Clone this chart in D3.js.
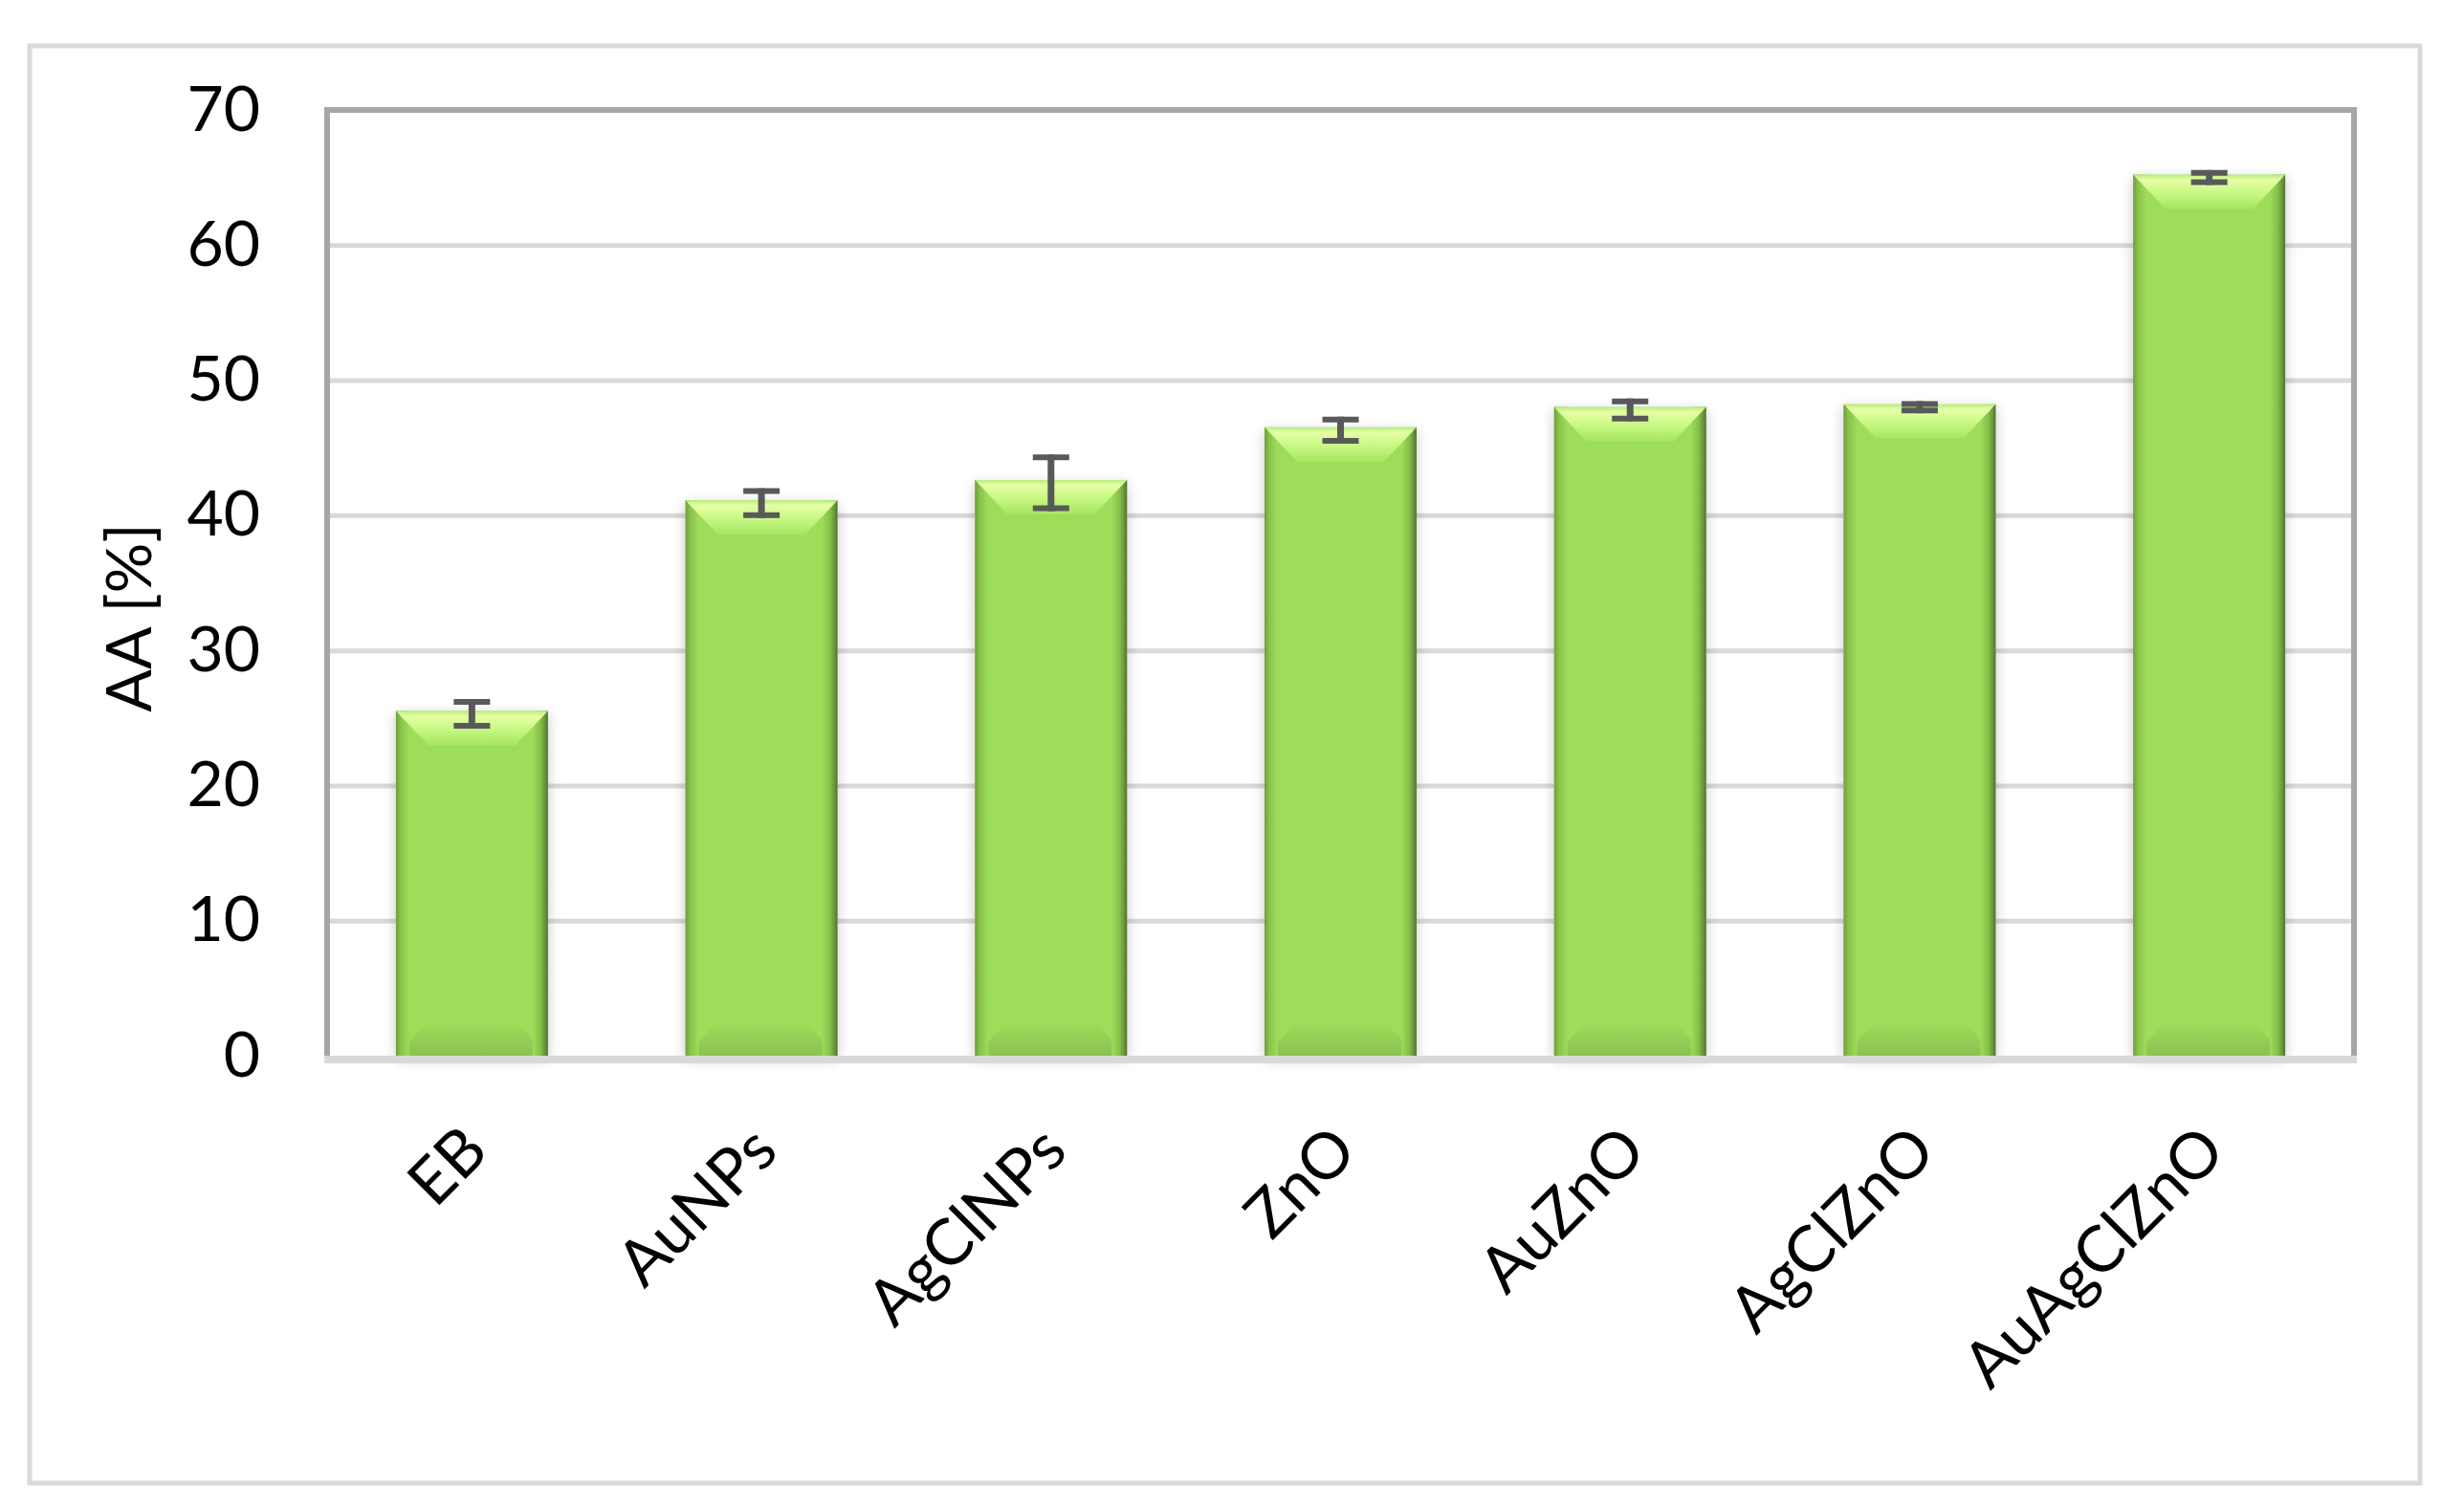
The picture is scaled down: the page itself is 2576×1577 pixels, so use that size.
<!DOCTYPE html>
<html>
<head>
<meta charset="utf-8">
<script src="https://cdn.jsdelivr.net/npm/d3@7/dist/d3.min.js"></script>
<style>
html,body{margin:0;padding:0;background:#fff;}
svg{display:block;}
text{font-family:Lato,"Open Sans",sans-serif;fill:#000;}
</style>
</head>
<body>
<svg id="chart" width="2576" height="1577"></svg>
<script>
const categories = ["EB","AuNPs","AgClNPs","ZnO","AuZnO","AgClZnO","AuAgClZnO"];
const values = [25.3, 40.9, 42.4, 46.3, 47.8, 48.0, 65.0];
const errors = [1.1, 1.1, 2.1, 1.0, 0.85, 0.45, 0.55];
const yTicks = [0,10,20,30,40,50,60,70];
const yTitle = "AA [%]";

const svg = d3.select("#chart");
const plot = {left:342, right:2461, top:115, bottom:1104};

// outer border
svg.append("rect").attr("x",31).attr("y",48).attr("width",2499).attr("height",1503)
  .attr("fill","#fff").attr("stroke","#d9d9d9").attr("stroke-width",5);

const x = d3.scaleBand().domain(categories).range([plot.left, plot.right])
  .paddingInner(0.475).paddingOuter(0.2375);
const y = d3.scaleLinear().domain([0,70]).range([plot.bottom, plot.top]);

const defs = svg.append("defs");
const f = defs.append("filter").attr("id","shadow").attr("x","-30%").attr("y","-10%").attr("width","160%").attr("height","120%");
f.append("feGaussianBlur").attr("in","SourceAlpha").attr("stdDeviation",7).attr("result","b");
f.append("feOffset").attr("in","b").attr("dx",0).attr("dy",4).attr("result","o");
f.append("feComponentTransfer").attr("in","o").attr("result","s")
  .append("feFuncA").attr("type","linear").attr("slope",0.22);
const fm = f.append("feMerge");
fm.append("feMergeNode").attr("in","s");
fm.append("feMergeNode").attr("in","SourceGraphic");

function lin(id, x1,y1,x2,y2, stops){
  const g = defs.append("linearGradient").attr("id",id)
    .attr("x1",x1).attr("y1",y1).attr("x2",x2).attr("y2",y2);
  stops.forEach(s=>g.append("stop").attr("offset",s[0]).attr("stop-color",s[1]));
}
lin("gLeft",0,0,1,0,[[0,"#6e9f3c"],[0.35,"#88c24a"],[1,"#9edd5a"]]);
lin("gRight",0,0,1,0,[[0,"#9edd5a"],[0.5,"#86c04a"],[0.8,"#6a963c"],[1,"#556f38"]]);
lin("gTop",0,0,0,1,[[0,"#b9ec7c"],[0.15,"#e6ffa6"],[0.55,"#c6f882"],[1,"#a6e462"]]);
lin("gBot",0,0,0,1,[[0,"#9edd5a"],[1,"#8cc152"]]);

// gridlines
const grid = svg.append("g")
  .attr("transform",`translate(${plot.left},0)`)
  .call(d3.axisLeft(y).tickValues(yTicks.filter(t=>t>0 && t<70)).tickSize(-(plot.right-plot.left)).tickFormat(""));
grid.select(".domain").remove();
grid.selectAll("line").attr("stroke","#d9d9d9").attr("stroke-width",5);

// plot frame (top, left, right)
svg.append("path")
  .attr("d",`M${plot.left},${plot.bottom} V${plot.top} H${plot.right} V${plot.bottom}`)
  .attr("fill","none").attr("stroke","#a6a6a6").attr("stroke-width",6);

// bars
const bw = x.bandwidth();
const bars = svg.append("g").selectAll("g.bar").data(categories).join("g").attr("class","bar")
  .attr("filter","url(#shadow)");
bars.each(function(c,i){
  const g = d3.select(this);
  const x0 = x(c), x1 = x0 + bw, yt = y(values[i]) - 3, yb = y(0);
  const b = 34, bh = 36;
  g.append("rect").attr("x",x0).attr("y",yt).attr("width",bw).attr("height",yb-yt).attr("fill","#9edd5a");
  g.append("path").attr("d",`M${x0},${yb} L${x1},${yb} L${x1-b},${yb-bh} L${x0+b},${yb-bh} Z`).attr("fill","url(#gBot)");
  g.append("rect").attr("x",x0).attr("y",yt).attr("width",14).attr("height",yb-yt).attr("fill","url(#gLeft)");
  g.append("rect").attr("x",x1-16).attr("y",yt).attr("width",16).attr("height",yb-yt).attr("fill","url(#gRight)");
  g.append("path").attr("d",`M${x0},${yt} L${x1},${yt} L${x1-b},${yt+bh} L${x0+b},${yt+bh} Z`).attr("fill","url(#gTop)");
});

// bottom axis line
svg.append("line").attr("x1",plot.left-3).attr("x2",plot.right+3)
  .attr("y1",plot.bottom+4).attr("y2",plot.bottom+4)
  .attr("stroke","#d9d9d9").attr("stroke-width",8);

// error bars
const eb = svg.append("g").attr("stroke","#595959").attr("fill","none");
categories.forEach((c,i)=>{
  const cx = x(c) + bw/2;
  const yh = y(values[i]+errors[i]), yl = y(values[i]-errors[i]);
  eb.append("line").attr("x1",cx).attr("x2",cx).attr("y1",yh).attr("y2",yl).attr("stroke-width",7);
  eb.append("line").attr("x1",cx-19).attr("x2",cx+19).attr("y1",yh+3).attr("y2",yh+3).attr("stroke-width",6);
  eb.append("line").attr("x1",cx-19).attr("x2",cx+19).attr("y1",yl-3).attr("y2",yl-3).attr("stroke-width",6);
});

// y tick labels
const ya = svg.append("g").attr("transform",`translate(${plot.left},0)`)
  .call(d3.axisLeft(y).tickValues(yTicks).tickSize(0).tickPadding(70));
ya.select(".domain").remove();
ya.selectAll("text").style("font-family","Lato, 'Open Sans', sans-serif").attr("font-size",66).attr("fill","#000");

// x labels
const xa = svg.append("g").attr("transform",`translate(0,${plot.bottom})`)
  .call(d3.axisBottom(x).tickSize(0).tickFormat(d=>d));
xa.select(".domain").remove();
xa.selectAll(".tick text")
  .style("font-family","Lato, 'Open Sans', sans-serif").attr("font-size",67).attr("fill","#000")
  .attr("text-anchor","end")
  .attr("y",0).attr("x",0).attr("dy","0.35em")
  .attr("transform","translate(3,86) rotate(-45)");

// y title
svg.append("text").attr("transform",`translate(135,646) rotate(-90)`)
  .attr("text-anchor","middle").attr("dy","0.35em").attr("font-size",66).text(yTitle);
</script>
</body>
</html>
